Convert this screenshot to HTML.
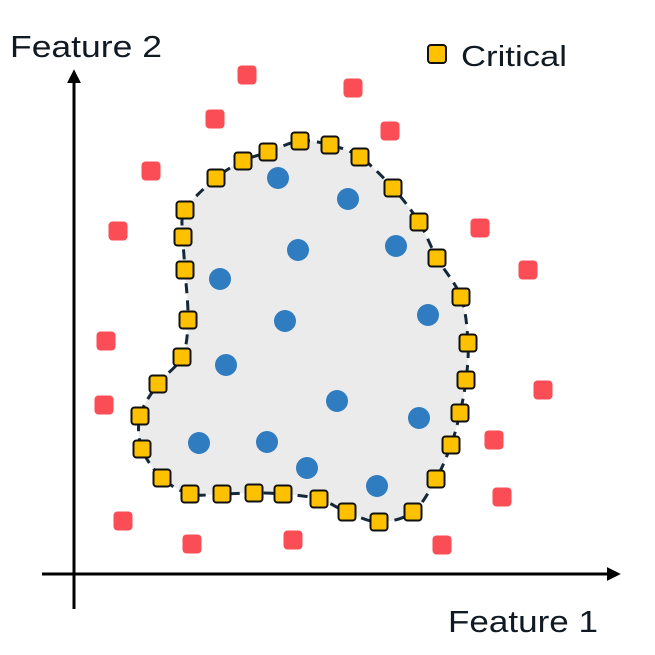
<!DOCTYPE html>
<html><head><meta charset="utf-8"><style>
html,body{margin:0;padding:0;background:#fff;}
svg{display:block;}
text{font-family:"Liberation Sans",sans-serif;fill:#111a22;}
</style></head><body>
<svg width="655" height="655" viewBox="0 0 655 655" xmlns="http://www.w3.org/2000/svg">
<defs>
<marker id="ah2" viewBox="0 0 10 10" markerWidth="14" markerHeight="14" refX="8" refY="5" orient="auto" markerUnits="userSpaceOnUse">
<path d="M0,0 L10,5 L0,10 Z" fill="#000"/>
</marker>
</defs>
<line x1="74" y1="609" x2="74" y2="72" stroke="#000" stroke-width="3" marker-end="url(#ah2)"/>
<line x1="42" y1="574" x2="618" y2="574" stroke="#000" stroke-width="3" marker-end="url(#ah2)"/>
<text x="10" y="57" font-size="31" textLength="152" lengthAdjust="spacingAndGlyphs">Feature 2</text>
<text x="448" y="632" font-size="31" textLength="150" lengthAdjust="spacingAndGlyphs">Feature 1</text>
<rect x="428" y="45" width="18" height="18" rx="3" fill="#fdc100" stroke="#111" stroke-width="2"/>
<text x="461" y="66" font-size="29" textLength="106" lengthAdjust="spacingAndGlyphs">Critical</text>
<path id="blob" d="" fill="#ebebeb" stroke="#14283a" stroke-width="3" stroke-dasharray="10 7"/>
<g id="reds" fill="#fb4d55"></g>
<g id="blues" fill="#2f7cc0"></g>
<g id="yel" fill="#fdc100" stroke="#111" stroke-width="2"></g>
</svg>
<script>
var Y=[[300,141],[330,145],[360,157],[393,188],[419,222],[437,258],[461,297],[468,343],[466,380],[460,413],[451,445],[436,479],[413,512],[379,522],[347,512],[319,499],[283,494],[254,493],[222,494],[190,494],[162,478],[142,449],[140,416],[158,384],[182,357],[188,320],[185,270],[183,237],[185,210],[216,178],[243,161],[268,152]];
var B=[[278,178],[348,199],[298,250],[396,246],[220,279],[285,321],[428,315],[226,365],[337,401],[419,418],[199,443],[267,442],[307,468],[377,486]];
var R=[[247,75],[353,88],[215,119],[390,131],[151,171],[118,231],[480,228],[528,270],[106,341],[104,405],[543,390],[494,440],[502,497],[123,521],[192,544],[293,540],[442,545]];
var ns="http://www.w3.org/2000/svg";
var n=Y.length,d="M"+Y[0][0]+","+Y[0][1];
for(var i=0;i<n;i++){var p0=Y[(i-1+n)%n],p1=Y[i],p2=Y[(i+1)%n],p3=Y[(i+2)%n];
d+=" C"+(p1[0]+(p2[0]-p0[0])/6)+","+(p1[1]+(p2[1]-p0[1])/6)+" "+(p2[0]-(p3[0]-p1[0])/6)+","+(p2[1]-(p3[1]-p1[1])/6)+" "+p2[0]+","+p2[1];}
document.getElementById("blob").setAttribute("d",d+"Z");
function add(g,tag,attrs){var e=document.createElementNS(ns,tag);for(var k in attrs)e.setAttribute(k,attrs[k]);document.getElementById(g).appendChild(e);}
R.forEach(function(p){add("reds","rect",{x:p[0]-9.5,y:p[1]-9.5,width:19,height:19,rx:4});});
B.forEach(function(p){add("blues","circle",{cx:p[0],cy:p[1],r:11});});
Y.forEach(function(p){add("yel","rect",{x:p[0]-8.5,y:p[1]-8.5,width:17,height:17,rx:3});});
</script>
</body></html>
